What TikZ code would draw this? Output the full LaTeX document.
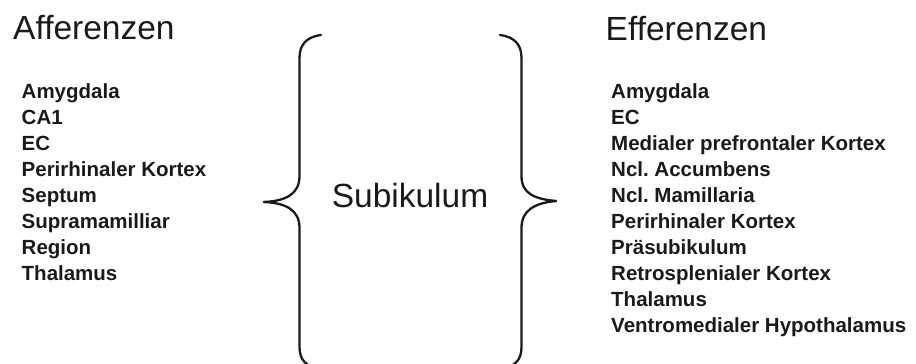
\documentclass[tikz,border=0pt]{standalone}
\usepackage{fontspec}
\setmainfont{Liberation Sans}
\frenchspacing
\definecolor{ink}{HTML}{1A1A1A}
\tikzset{
  head/.style={anchor=base west, inner sep=0pt, text=ink, font=\fontsize{33.5}{40}\selectfont},
  item/.style={anchor=base west, inner sep=0pt, text=ink, font=\bfseries\fontsize{20.5}{26}\selectfont},
  center/.style={anchor=base, inner sep=0pt, text=ink, font=\fontsize{33.5}{40}\selectfont},
  bracestroke/.style={draw=ink, line width=2.3pt, line cap=round, line join=round}
}
\begin{document}
\begin{tikzpicture}[x=1pt,y=-1pt]
\useasboundingbox (0,0) rectangle (916,364);
\clip (0,0) rectangle (916,364);
% headers
\node[head] (aff) at (13,39.5) {Afferenzen};
\node[head] (eff) at (605.5,40) {Efferenzen};
\node[center] (sub) at (410,207) {Subikulum};
% left list
\node[item] (a1) at (21.5,98) {Amygdala};
\node[item] (a2) at (21.5,124) {CA1};
\node[item] (a3) at (21.5,150) {EC};
\node[item] (a4) at (21.5,176) {Perirhinaler Kortex};
\node[item] (a5) at (21.5,202) {Septum};
\node[item] (a6) at (21.5,228) {Supramamilliar};
\node[item] (a7) at (21.5,254) {Region};
\node[item] (a8) at (21.5,280) {Thalamus};
% right list
\node[item] (e1) at (611,98) {Amygdala};
\node[item] (e2) at (611,124) {EC};
\node[item] (e3) at (611,150) {Medialer prefrontaler Kortex};
\node[item] (e4) at (611,176) {Ncl. Accumbens};
\node[item] (e5) at (611,202) {Ncl. Mamillaria};
\node[item] (e6) at (611,228) {Perirhinaler Kortex};
\node[item] (e7) at (611,254) {Präsubikulum};
\node[item] (e8) at (611,280) {Retrosplenialer Kortex};
\node[item] (e9) at (611,306) {Thalamus};
\node[item] (e10) at (611,332) {Ventromedialer Hypothalamus};
% left brace
\draw[bracestroke] (321,35) .. controls (306,37) and (299.5,45) .. (299.5,58)
  -- (299.5,176) .. controls (299.5,194) and (286,201) .. (264,202);
\draw[bracestroke] (264,202) .. controls (286,203) and (299.5,210) .. (299.5,228)
  -- (299.5,347) .. controls (299.5,360) and (306,367) .. (321,369);
% right brace
\draw[bracestroke] (500,35) .. controls (515,37) and (521.5,45) .. (521.5,58)
  -- (521.5,176) .. controls (521.5,194) and (535,199) .. (556,201);
\draw[bracestroke] (556,201) .. controls (535,203) and (521.5,210) .. (521.5,228)
  -- (521.5,347) .. controls (521.5,360) and (515,367) .. (500,369);
\end{tikzpicture}
\end{document}
